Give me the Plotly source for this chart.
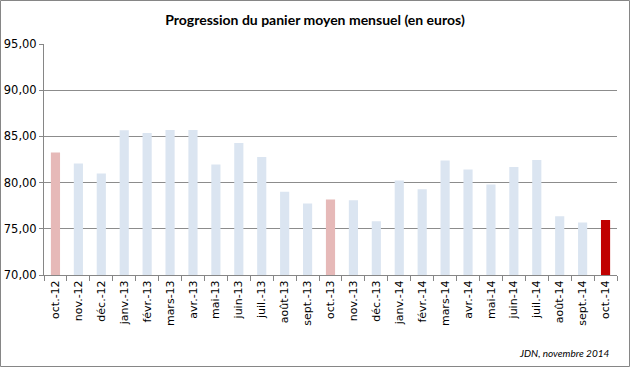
import plotly.graph_objects as go

months = ["oct.-12", "nov.-12", "déc.-12", "janv.-13", "févr.-13", "mars-13", "avr.-13",
          "mai-13", "juin-13", "juil.-13", "août-13", "sept.-13", "oct.-13", "nov.-13",
          "déc.-13", "janv.-14", "févr.-14", "mars-14", "avr.-14", "mai-14", "juin-14",
          "juil.-14", "août-14", "sept.-14", "oct.-14"]
values = [83.25, 82.06, 80.98, 85.66, 85.37, 85.69, 85.69, 81.95, 84.29, 82.78, 79.00,
          77.74, 78.17, 78.10, 75.83, 80.23, 79.29, 82.38, 81.41, 79.79, 81.70, 82.45,
          76.37, 75.69, 75.94]
highlight_past = {"oct.-12", "oct.-13"}
highlight_now = {"oct.-14"}
y_ticks = [70, 75, 80, 85, 90, 95]

colors = []
for m in months:
    if m in highlight_now:
        colors.append("#c00000")
    elif m in highlight_past:
        colors.append("#e6b9b8")
    else:
        colors.append("#dbe5f1")

W, H = 630, 367
L, R, T, B = 44, 13, 44, 92
pw, ph = W - L - R, H - T - B

fig = go.Figure(go.Bar(x=months, y=values, marker=dict(color=colors, line=dict(width=0)),
                       hoverinfo="x+y"))

fig.update_layout(
    width=W, height=H,
    margin=dict(l=L, r=R, t=T, b=B, autoexpand=False),
    paper_bgcolor="white", plot_bgcolor="white",
    separators=", ",
    bargap=0.6,
    showlegend=False,
    font=dict(family="DejaVu Sans, sans-serif", color="#000000"),
    title=dict(text="<b>Progression du panier moyen mensuel (en euros)</b>",
               x=0.5, xanchor="center", y=1 - 20 / H, yanchor="middle",
               font=dict(size=14, family="Lato, Open Sans, sans-serif", color="#000")),
    xaxis=dict(
        type="category", tickangle=-90, automargin=False,
        tickfont=dict(size=11, family="DejaVu Sans, sans-serif"),
        showline=True, linecolor="#868686", linewidth=1,
        ticks="outside", ticklen=5, tickcolor="#868686", tickson="boundaries",
        showgrid=False,
    ),
    yaxis=dict(
        range=[70, 95], tickvals=y_ticks, tickformat=".2f", automargin=False,
        tickfont=dict(size=11.5, family="DejaVu Sans, sans-serif"),
        showline=True, linecolor="#868686", linewidth=1,
        ticks="outside", ticklen=4, tickcolor="#868686",
        showgrid=True, gridcolor="#8c8c8c", gridwidth=1,
        zeroline=False,
    ),
    annotations=[dict(
        text="<i>JDN, novembre 2014</i>", xref="paper", yref="paper",
        x=(611 - L) / pw, y=-(353 - T - ph) / ph, xanchor="right", yanchor="middle",
        showarrow=False, font=dict(size=10, family="Lato, Open Sans, sans-serif", color="#000"),
    )],
    shapes=[dict(
        type="rect", xref="paper", yref="paper",
        x0=-(L - 0.5) / pw, x1=1 + (R - 0.5) / pw,
        y0=-(B - 0.5) / ph, y1=1 + (T - 0.5) / ph,
        line=dict(color="#868686", width=1), fillcolor="rgba(0,0,0,0)", layer="above",
    )],
)

fig.write_html("out.html", config={"displayModeBar": False},
               post_script="document.body.style.margin='0';")
